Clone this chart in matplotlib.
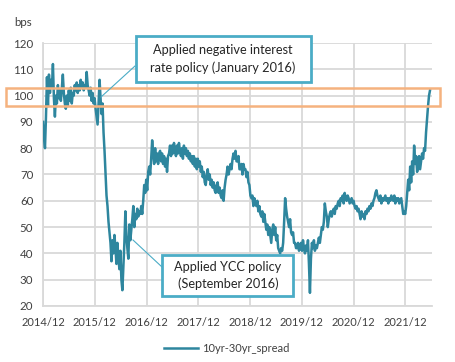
import numpy as np
import pandas as pd
import matplotlib
matplotlib.use("Agg")
import matplotlib.pyplot as plt
from matplotlib.patches import Rectangle
from matplotlib.lines import Line2D

plt.rcParams['font.family'] = ['Lato', 'DejaVu Sans']

# weekly 10yr-30yr spread (bps), Dec to Nov blocks
spread_2015 = [90, 84, 80, 92, 107, 96, 108, 101, 106, 103, 112, 99,
               92, 100, 97, 104, 99, 102, 98, 103, 108, 101, 97, 95,
               100, 96, 102, 98, 103, 97, 101, 100, 104, 102, 105, 101,
               104, 102, 106, 103, 105, 102, 104, 103, 109, 104, 102, 100,
               103, 98, 101, 97]
spread_2016 = [99, 95, 92, 89, 97, 106, 99, 93,
               97, 86, 79, 70, 62, 58, 52, 48,
               44, 37, 45, 40, 47, 42, 36, 44,
               38, 34, 41, 30, 26, 35, 44, 56,
               47, 42, 38, 51, 45, 49, 53, 58,
               50, 55, 53, 57, 54, 56, 55, 58,
               55, 60, 66, 63]
spread_2017 = [68, 64, 71, 73, 70, 76, 83, 78,
               74, 80, 75, 78, 74, 78, 79, 75,
               78, 74, 77, 73, 76, 71, 77, 78,
               81, 77, 81, 78, 82, 79, 77, 81,
               78, 82, 79, 77, 80, 76, 81, 78,
               80, 77, 79, 76, 78, 75, 77, 74,
               77, 73, 76, 72]
spread_2018 = [76, 73, 75, 71, 73, 69, 71, 67,
               66, 70, 72, 68, 70, 66, 68, 65,
               67, 64, 63, 66, 67, 63, 65, 62,
               61, 64, 60, 65, 68, 70, 73, 70,
               72, 74, 72, 76, 78, 76, 79, 75,
               75, 77, 72, 72, 74, 70, 74, 72,
               72, 69, 71, 67]
spread_2019 = [66, 62, 61, 62, 58, 61, 59, 58,
               60, 56, 58, 55, 54, 56, 52, 55,
               52, 49, 51, 47, 50, 47, 44, 49,
               51, 47, 50, 45, 47, 42, 41, 40,
               42, 41, 44, 52, 61, 57, 54, 52,
               50, 53, 48, 47, 48, 44, 44, 42,
               42, 44, 41, 43]
spread_2020 = [44, 41, 45, 42, 40, 43, 41, 45,
               36, 25, 38, 44, 42, 45, 41, 43,
               42, 44, 46, 44, 47, 50, 49, 52,
               59, 56, 54, 50, 53, 55, 56, 54,
               56, 57, 55, 58, 57, 59, 60, 58,
               61, 60, 62, 59, 63, 61, 60, 62,
               61, 59, 60, 61]
spread_2021 = [59, 60, 58, 57, 58, 56, 57, 55,
               53, 56, 54, 55, 53, 56, 55, 57,
               56, 58, 57, 59, 58, 60, 61, 63,
               64, 62, 61, 60, 62, 59, 61, 60,
               61, 62, 60, 61, 59, 61, 60, 62,
               61, 60, 62, 59, 61, 60, 61, 59,
               60, 61, 58, 55]
spread_2022 = [56, 55, 58, 63, 68, 64, 73, 67,
               75, 70, 81, 74, 77, 71, 73, 77,
               72, 75, 78, 76, 80, 79, 86, 91, 96, 100, 102]

spread = (spread_2015 + spread_2016 + spread_2017 + spread_2018
          + spread_2019 + spread_2020 + spread_2021 + spread_2022)
dates = pd.date_range("2014-12-01", periods=len(spread), freq="7D")
tick_years = list(range(2014, 2022))
tick_labels = [f"{y}/12" for y in tick_years]

W, H = 455, 362
fig = plt.figure(figsize=(W / 100, H / 100), dpi=100)
ax = fig.add_axes([43 / W, 1 - 306 / H, (432 - 43) / W, (306 - 43) / H])

line_color = "#2E869E"
grid_color = "#D9D9D9"
text_color = "#404040"

ax.plot(dates, spread, color=line_color, lw=1.8, label="10yr-30yr_spread", zorder=3)

ax.set_ylim(20, 120)
ax.set_yticks(range(20, 121, 10))
ax.set_xlim(pd.Timestamp("2014-12-01"), pd.Timestamp("2014-12-01") + pd.Timedelta(weeks=392))
ax.set_xticks([pd.Timestamp(f"{y}-12-01") for y in tick_years])
ax.set_xticklabels(tick_labels)
ax.grid(True, color=grid_color, lw=1.3)
ax.set_axisbelow(True)
for s in ["top", "right"]:
    ax.spines[s].set_visible(False)
for s in ["left", "bottom"]:
    ax.spines[s].set_color(grid_color)
    ax.spines[s].set_linewidth(1.3)
ax.tick_params(length=0, labelsize=8.3, labelcolor=text_color, pad=7)
ax.tick_params(axis="x", labelsize=8, pad=8)

fig.text(14 / W, 1 - 23 / H, "bps", fontsize=8.3, color=text_color, va="center", ha="left")


def fx(x):
    return x / W


def fy(y):
    return 1 - y / H


# highlight band around 100 bps
fig.add_artist(Rectangle((fx(6), fy(106)), fx(440) - fx(6), fy(88) - fy(106),
                         fill=False, edgecolor="#F5B27F", lw=1.8, zorder=5))

# leader lines
box_color = "#4BACC6"
fig.add_artist(Line2D([fx(101), fx(135)], [fy(97), fy(66)], color=box_color, lw=0.8, zorder=6))
fig.add_artist(Line2D([fx(133), fx(162)], [fy(240), fy(267)], color=box_color, lw=0.8, zorder=6))

# annotation boxes
fig.add_artist(Rectangle((fx(136), fy(82)), fx(311) - fx(136), fy(36) - fy(82),
                         facecolor="white", edgecolor=box_color, lw=2, zorder=7))
fig.text(fx(223), fy(59), "Applied negative interest\nrate policy (January 2016)",
         ha="center", va="center", fontsize=9.2, color="#262626", linespacing=1.5, zorder=8)

fig.add_artist(Rectangle((fx(162), fy(296)), fx(293) - fx(162), fy(255) - fy(296),
                         facecolor="white", edgecolor=box_color, lw=2, zorder=7))
fig.text(fx(228), fy(275.5), "Applied YCC policy\n(September 2016)",
         ha="center", va="center", fontsize=9.2, color="#262626", linespacing=1.5, zorder=8)

fig.legend(loc="center", bbox_to_anchor=(fx(227), fy(348)), frameon=False,
           fontsize=8, handlelength=3.0, handletextpad=0.4, labelcolor=text_color)

fig.savefig("out.png", dpi=100)
